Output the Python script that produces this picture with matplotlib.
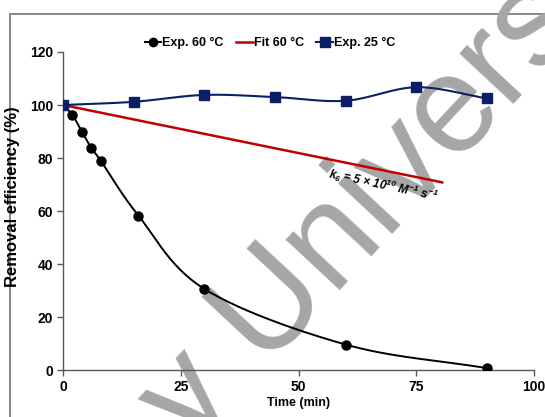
import numpy as np
import matplotlib.pyplot as plt
from matplotlib.lines import Line2D
from matplotlib.patches import Rectangle

plt.rcParams['font.family'] = ['Liberation Sans', 'DejaVu Sans']
plt.rcParams['mathtext.fontset'] = 'custom'
plt.rcParams['mathtext.rm'] = 'Liberation Sans:bold:italic'
plt.rcParams['mathtext.it'] = 'Liberation Sans:bold:italic'
plt.rcParams['mathtext.bf'] = 'Liberation Sans:bold:italic'

# Data
t_60 = [0, 2, 4, 6, 8, 16, 30, 60, 90]
exp_60 = [100, 96.2, 90.0, 83.8, 79.0, 58.3, 30.6, 9.6, 0.7]

t_fit = [0, 80.5]
fit_60 = [100, 70.8]

t_25 = [0, 15, 30, 45, 60, 75, 90]
exp_25 = [100, 101.2, 103.8, 103.0, 101.6, 106.7, 102.5]

x_ticks = [0, 25, 50, 75, 100]
y_ticks = [0, 20, 40, 60, 80, 100, 120]

black = '#000000'
red = '#C00000'
navy = '#0B1F66'


def smooth(x, y, n=30):
    # Catmull-Rom curve through the points, like Excel's smoothed line
    x = np.asarray(x, float)
    y = np.asarray(y, float)
    px = np.concatenate([[2*x[0]-x[1]], x, [2*x[-1]-x[-2]]])
    py = np.concatenate([[2*y[0]-y[1]], y, [2*y[-1]-y[-2]]])
    xs, ys = [], []
    s = np.linspace(0, 1, n)
    for i in range(1, len(px)-2):
        for p, out in ((px, xs), (py, ys)):
            p0, p1, p2, p3 = p[i-1], p[i], p[i+1], p[i+2]
            out.extend(0.5*((2*p1) + (-p0+p2)*s + (2*p0-5*p1+4*p2-p3)*s**2
                            + (-p0+3*p1-3*p2+p3)*s**3))
    return np.array(xs), np.array(ys)


fig = plt.figure(figsize=(5.45, 4.17), dpi=100)
ax = fig.add_axes([0.1156, 0.1127, 0.98-0.1156, 0.8753-0.1127])
ax.patch.set_facecolor('none')

# outer chart frame
fig.patches.append(Rectangle((10/545, -0.05), 1.1, 1-14/417+0.05,
                             transform=fig.transFigure, fill=False,
                             edgecolor='#7f7f7f', linewidth=1.3, zorder=-2))

# watermark
fig.text(0.665, 0.49, 'y Univers', rotation=47, fontsize=100,
         color='#a6a6a6', ha='center', va='center', zorder=-1)

sx, sy = smooth(t_60, exp_60)
ax.plot(sx, sy, color=black, lw=1.4, zorder=3)
ax.plot(t_60, exp_60, 'o', color=black, ms=6.5, zorder=4)

ax.plot(t_fit, fit_60, color=red, lw=1.8, zorder=3)

sx, sy = smooth(t_25, exp_25)
ax.plot(sx, sy, color=navy, lw=1.5, zorder=3)
ax.plot(t_25, exp_25, 's', color=navy, ms=7.5, zorder=5)

ax.text(67.9, 69.8, r'$k_6$ = 5 × 10$^{10}$ M$^{-1}$ s$^{-1}$',
        rotation=-12, rotation_mode='anchor', ha='center', va='center',
        fontsize=8.5, fontweight='bold', style='italic')

ax.set_xlim(0, 100)
ax.set_ylim(0, 120)
ax.set_xticks(x_ticks)
ax.set_yticks(y_ticks)
for s in ['top', 'right']:
    ax.spines[s].set_visible(False)
for s in ['left', 'bottom']:
    ax.spines[s].set_color('#595959')
    ax.spines[s].set_linewidth(1.0)
ax.tick_params(direction='out', length=4, width=1, color='#595959',
               labelsize=10, pad=3)
for lab in ax.get_xticklabels() + ax.get_yticklabels():
    lab.set_fontweight('bold')

ax.set_xlabel('Time (min)', fontsize=9, fontweight='bold', labelpad=2)
ax.set_ylabel('Removal efficiency (%)', fontsize=12, fontweight='bold')
ax.yaxis.set_label_coords(-0.091, 0.544)

handles = [
    Line2D([], [], color=black, marker='o', ms=6, lw=1.4),
    Line2D([], [], color=red, lw=1.8),
    Line2D([], [], color=navy, marker='s', ms=7, lw=1.5),
]
fig.legend(handles, ['Exp. 60 °C', 'Fit 60 °C', 'Exp. 25 °C'],
           loc='center', bbox_to_anchor=(270/545, 1-43/417), ncol=3,
           frameon=False, handlelength=1.3, handletextpad=0.1,
           columnspacing=1.0, prop={'weight': 'bold', 'size': 9})

fig.savefig('out.png', dpi=100)
